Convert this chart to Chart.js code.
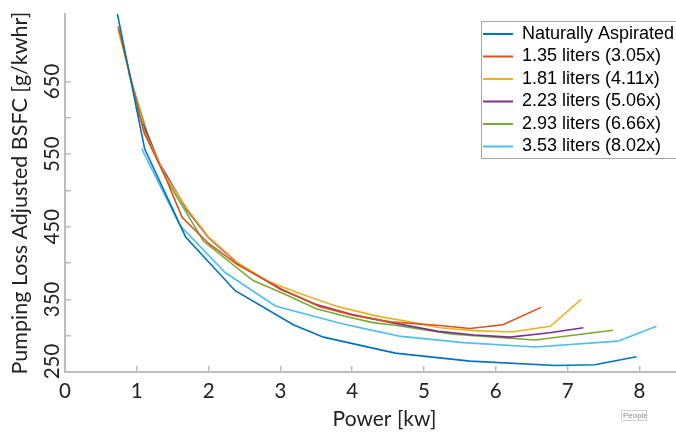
<!DOCTYPE html>
<html>
<head>
<meta charset="utf-8">
<script src="https://cdn.jsdelivr.net/npm/chart.js@4.4.1/dist/chart.umd.min.js"></script>
<style>
  html, body { margin: 0; padding: 0; background: #fff; overflow: hidden; width: 676px; height: 432px; }
  #wrap { width: 704px; height: 432px; }
</style>
</head>
<body>
<div id="wrap"><canvas id="c" width="704" height="432"></canvas></div>
<script>
// ---- Data ----
const seriesLabels = [
  'Naturally Aspirated',
  '1.35 liters (3.05x)',
  '1.81 liters (4.11x)',
  '2.23 liters (5.06x)',
  '2.93 liters (6.66x)',
  '3.53 liters (8.02x)'
];

const naPower   = [0.73, 1.11, 1.68, 2.37, 3.18, 3.6, 4.6, 5.64, 6.83, 7.38, 7.96];
const naBsfc    = [743, 557, 436, 362, 315, 298, 276, 265, 259, 260, 271];

const l135Power = [0.74, 1.1, 1.4, 1.63, 2.0, 2.4, 3.04, 3.55, 4.02, 4.53, 5.22, 5.64, 6.1, 6.63];
const l135Bsfc  = [726, 580, 518, 463, 427, 398, 363, 340, 328, 319, 314, 310, 315, 339];

const l181Power = [0.74, 1.1, 1.4, 1.7, 2.0, 2.4, 2.8, 3.3, 3.8, 4.3, 4.8, 5.22, 5.7, 6.22, 6.76, 7.19];
const l181Bsfc  = [722, 582, 520, 475, 436, 401, 376, 357, 340, 328, 319, 311, 307, 305, 313, 350];

const l223Power = [0.99, 1.3, 1.7, 2.0, 2.4, 3.0, 3.5, 4.0, 4.6, 5.2, 5.7, 6.2, 6.75, 7.22];
const l223Bsfc  = [614, 540, 473, 435, 400, 364, 343, 329, 317, 306, 301, 298, 304, 311];

const l293Power = [0.88, 1.15, 1.37, 1.56, 1.93, 2.62, 3.04, 3.5, 3.97, 4.29, 4.62, 5.4, 6.55, 7.63];
const l293Bsfc  = [664, 578, 524, 491, 430, 376, 358, 337, 325, 318, 314, 302, 294, 307.5];

const l353Power = [1.07, 1.11, 1.6, 2.23, 2.93, 3.83, 4.2, 4.68, 5.55, 6.55, 7.7, 8.24];
const l353Bsfc  = [558, 549, 452, 387, 341, 317, 309, 299, 290.5, 284.5, 292.5, 313];

const xTickValues = [0, 1, 2, 3, 4, 5, 6, 7, 8];
const yLabeledTicks = [250, 350, 450, 550, 650];

const colors = ['#0072BD', '#D95319', '#EDB120', '#7E2F8E', '#77AC30', '#4DBEEE'];

const powers = [naPower, l135Power, l181Power, l223Power, l293Power, l353Power];
const bsfcs  = [naBsfc, l135Bsfc, l181Bsfc, l223Bsfc, l293Bsfc, l353Bsfc];

const datasets = seriesLabels.map((label, i) => ({
  label,
  data: powers[i].map((p, j) => ({ x: p, y: bsfcs[i][j] })),
  borderColor: colors[i],
  backgroundColor: colors[i],
  borderWidth: 1.6,
  pointRadius: 0,
  showLine: true,
  tension: 0
}));

const axisGray = '#bdbdbd';
const textColor = '#222222';

const legendBoxPlugin = {
  id: 'legendBox',
  afterLayout(chart) {
    const l = chart.legend;
    if (!l) return;
    l.left = 478.5;
    l.top = 20.5;
    l.right = l.left + l.width;
    l.bottom = l.top + 400;
  },
  afterDraw(chart) {
    const ctx = chart.ctx;
    ctx.save();
    ctx.strokeStyle = '#a8a8a8';
    ctx.lineWidth = 1;
    ctx.strokeRect(481.5, 21.5, 230, 137);
    ctx.font = '8px "Liberation Sans"';
    ctx.fillStyle = '#8a8a8a';
    ctx.textBaseline = 'alphabetic';
    ctx.fillText('People', 623, 418);
    ctx.strokeStyle = '#d0d0d0';
    ctx.strokeRect(621.5, 410.5, 25, 10);
    ctx.restore();
  }
};

// the bottom label sits above its tick in the reference (kept inside the axis)
const yLabelText = v => (v === 250 ? '\u0020\u0020\u0020\u0020250' : String(v));

new Chart(document.getElementById('c'), {
  type: 'scatter',
  data: { datasets },
  plugins: [legendBoxPlugin],
  options: {
    responsive: false,
    animation: false,
    devicePixelRatio: 1,
    layout: { padding: { top: 14, right: 0, left: 0, bottom: 0 } },
    plugins: {
      tooltip: { enabled: false },
      legend: {
        position: 'chartArea',
        align: 'start',
        labels: {
          boxWidth: 30,
          boxHeight: 2,
          padding: 4.5,
          color: '#000',
          font: { family: '"Liberation Sans", Arial, sans-serif', size: 18 },
          generateLabels(chart) {
            const items = Chart.defaults.plugins.legend.labels.generateLabels(chart);
            items.forEach(it => { it.lineWidth = 0; it.fillStyle = it.strokeStyle; });
            return items;
          }
        }
      }
    },
    scales: {
      x: {
        type: 'linear',
        min: 0,
        max: 8.9,
        afterBuildTicks: s => { s.ticks = xTickValues.map(v => ({ value: v })); },
        afterFit: s => { s.height = 60; },
        ticks: {
          stepSize: 1,
          autoSkip: false,
          maxRotation: 0,
          padding: 13,
          color: textColor,
          font: { family: 'Lato', size: 20.5 }
        },
        grid: { drawOnChartArea: false, drawTicks: true, tickLength: -6, color: axisGray, lineWidth: 1.5 },
        border: { display: true, color: axisGray, width: 2 },
        title: {
          display: true,
          text: 'Power [kw]',
          color: textColor,
          font: { family: 'Lato', size: 21 },
          padding: { top: 0, bottom: 0 }
        }
      },
      y: {
        type: 'linear',
        min: 250,
        max: 743,
        afterBuildTicks: s => { s.ticks = s.ticks.filter(t => t.value % 50 === 0); },
        afterFit: s => { s.width = 65; },
        ticks: {
          stepSize: 50,
          autoSkip: false,
          minRotation: 90,
          maxRotation: 90,
          crossAlign: 'center',
          padding: -10,
          color: textColor,
          font: { family: 'Lato', size: 20.5 },
          callback: v => (yLabeledTicks.includes(v) ? yLabelText(v) : '')
        },
        grid: { drawOnChartArea: false, drawTicks: true, tickLength: -6, color: axisGray, lineWidth: 1.5 },
        border: { display: true, color: axisGray, width: 2 },
        title: {
          display: true,
          text: 'Pumping Loss Adjusted BSFC [g/kwhr]',
          color: textColor,
          font: { family: 'Lato', size: 21.5 },
          padding: { top: 7, bottom: 0 }
        }
      }
    }
  }
});
</script>
</body>
</html>
